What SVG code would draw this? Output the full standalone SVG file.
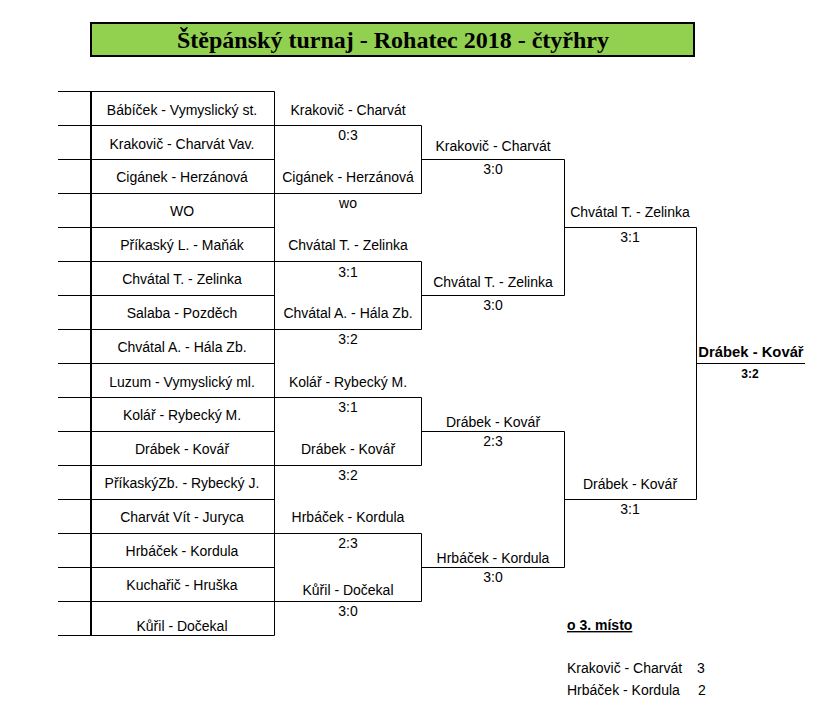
<svg xmlns="http://www.w3.org/2000/svg" width="840" height="719" viewBox="0 0 840 719">
<style>
.t{font-family:"Liberation Sans",Arial,sans-serif;font-size:14px;fill:#000;text-anchor:middle}
.l{text-anchor:start}
.b{font-weight:bold}
.ttl{font-family:"Liberation Serif","Times New Roman",serif;font-size:24px;font-weight:bold;fill:#000;text-anchor:middle}
.ln{stroke:#000;stroke-width:1;fill:none}
</style>
<rect width="840" height="719" fill="#fff"/>
<g id="title">
<rect x="91" y="23" width="603" height="33" fill="#92D050" stroke="#000" stroke-width="2"/>
<text class="ttl" x="393" y="48">Štěpánský turnaj - Rohatec 2018 - čtyřhry</text>
</g>
<g id="table" class="ln">
<path d="M58,91.5H274.5M58,125.5H274.5M58,159.5H274.5M58,193.5H274.5M58,227.5H274.5M58,261.5H274.5M58,295.5H274.5M58,329.5H274.5M58,363.5H274.5M58,397.5H274.5M58,431.5H274.5M58,465.5H274.5M58,499.5H274.5M58,533.5H274.5M58,567.5H274.5M58,601.5H274.5M58,635.5H274.5"/>
<path d="M274.5,91.5V635.5"/>
<path d="M91,91V636" stroke-width="2"/>
</g>
<g id="connectors" class="ln">
<path d="M274.5,125.5H421.5V193.5H274.5"/>
<path d="M274.5,261.5H421.5V329.5H274.5"/>
<path d="M274.5,397.5H421.5V465.5H274.5"/>
<path d="M274.5,533.5H421.5V601.5H274.5"/>
<path d="M421.5,159.5H564.5V295.5H421.5"/>
<path d="M421.5,431.5H564.5V567.5H421.5"/>
<path d="M564.5,227.5H696.5V499.5H564.5"/>
<path d="M696.5,363.5H805"/>
</g>
<g id="entrants" class="t">
<text x="182" y="114.5">Bábíček - Vymyslický st.</text>
<text x="182" y="148.5">Krakovič - Charvát Vav.</text>
<text x="182" y="182">Cigánek - Herzánová</text>
<text x="182" y="216">WO</text>
<text x="182" y="250">Příkaský L. - Maňák</text>
<text x="182" y="284">Chvátal T. - Zelinka</text>
<text x="182" y="318">Salaba - Pozděch</text>
<text x="182" y="352">Chvátal A. - Hála Zb.</text>
<text x="182" y="386.5">Luzum - Vymyslický ml.</text>
<text x="182" y="420">Kolář - Rybecký M.</text>
<text x="182" y="454">Drábek - Kovář</text>
<text x="182" y="488">PříkaskýZb. - Rybecký J.</text>
<text x="182" y="521.5">Charvát Vít - Juryca</text>
<text x="182" y="556">Hrbáček - Kordula</text>
<text x="182" y="590">Kuchařič - Hruška</text>
<text x="182" y="631">Kůřil - Dočekal</text>
</g>
<g id="round1" class="t">
<text x="348" y="114.5">Krakovič - Charvát</text>
<text x="348" y="140">0:3</text>
<text x="348" y="181.5">Cigánek - Herzánová</text>
<text x="348" y="208">wo</text>
<text x="348" y="250">Chvátal T. - Zelinka</text>
<text x="348" y="276.5">3:1</text>
<text x="348" y="318">Chvátal A. - Hála Zb.</text>
<text x="348" y="344">3:2</text>
<text x="348" y="386.5">Kolář - Rybecký M.</text>
<text x="348" y="412">3:1</text>
<text x="348" y="454">Drábek - Kovář</text>
<text x="348" y="480">3:2</text>
<text x="348" y="521.5">Hrbáček - Kordula</text>
<text x="348" y="548">2:3</text>
<text x="348" y="595">Kůřil - Dočekal</text>
<text x="348" y="616">3:0</text>
</g>
<g id="round2" class="t">
<text x="493" y="151">Krakovič - Charvát</text>
<text x="493" y="174">3:0</text>
<text x="493" y="287">Chvátal T. - Zelinka</text>
<text x="493" y="310">3:0</text>
<text x="493" y="427">Drábek - Kovář</text>
<text x="493" y="446">2:3</text>
<text x="493" y="563">Hrbáček - Kordula</text>
<text x="493" y="581.5">3:0</text>
</g>
<g id="round3" class="t">
<text x="630" y="217">Chvátal T. - Zelinka</text>
<text x="630" y="241.5">3:1</text>
<text x="630" y="489">Drábek - Kovář</text>
<text x="630" y="514">3:1</text>
</g>
<g id="winner" class="t b">
<text x="751" y="357" font-size="14.8">Drábek - Kovář</text>
<text x="750" y="378" font-size="12">3:2</text>
</g>
<g id="third-place" class="t l">
<text class="t l b" x="567" y="630" text-decoration="underline">o 3. místo</text>
<text x="567" y="673">Krakovič - Charvát</text>
<text x="697" y="673">3</text>
<text x="567" y="695">Hrbáček - Kordula</text>
<text x="698" y="695">2</text>
</g>
</svg>
